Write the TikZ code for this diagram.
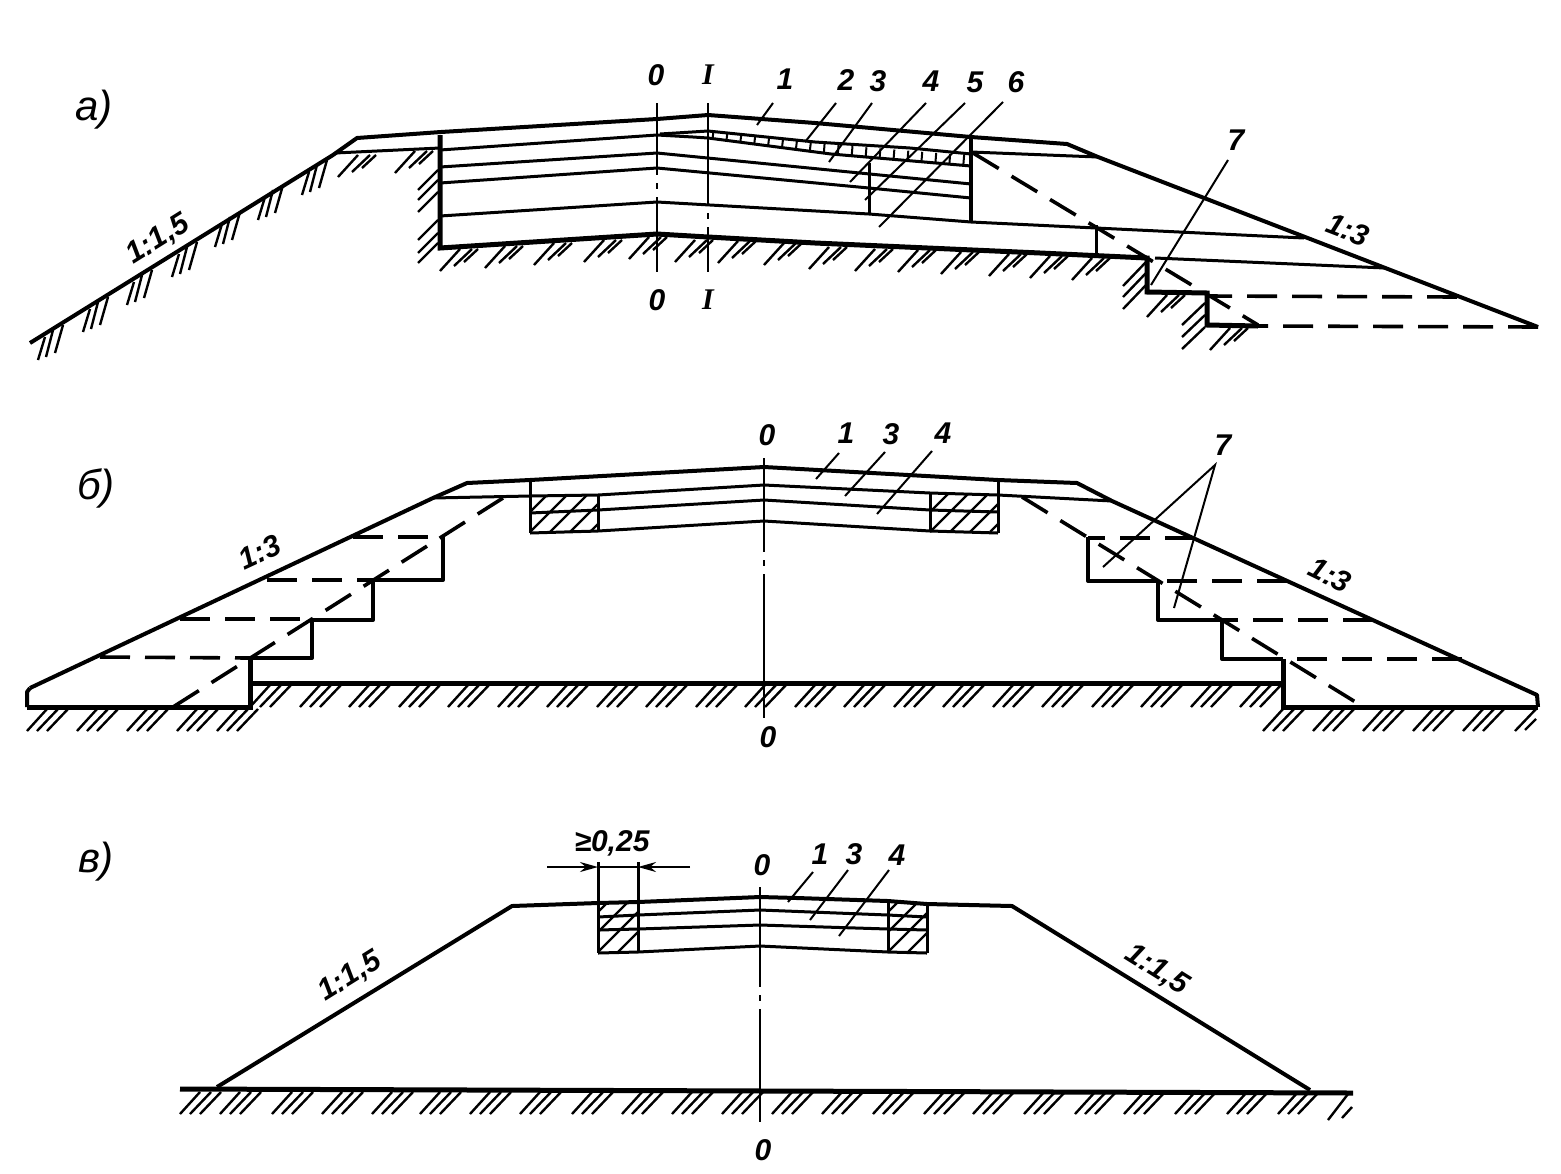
\documentclass[tikz,border=0pt]{standalone}
\usepackage{fontspec}
\setmainfont{Liberation Sans}
\newfontfamily\romanfont{Liberation Serif}
\usetikzlibrary{arrows.meta}

\newcommand{\boxhatch}[4]{
    \begin{scope}
        \clip (#1,#2) rectangle (#3,#4);
        \foreach \k in {0,...,7}
            \draw[hatchline] ({#1-60+\k*20},#4) -- ({#1+\k*20},#4-60);
    \end{scope}
}

\begin{document}
\begin{tikzpicture}[
    x = 0.5pt, y = -0.5pt,
    ground/.style = {line width = 2.5pt, line join = miter},
    slope/.style = {line width = 2pt, line join = round},
    layer/.style = {line width = 1.5pt},
    hatchline/.style = {line width = 1.2pt},
    leader/.style = {line width = 1pt},
    cutline/.style = {line width = 1.8pt, dash pattern = on 15pt off 7.5pt},
    axisline/.style = {line width = 1.3pt, dash pattern = on #1 off 4pt on 3pt off 4pt on 200pt off 0pt},
    lab/.style = {font = \fontsize{15}{15}\selectfont\bfseries\itshape, inner sep = 0pt},
    romanlab/.style = {font = \fontsize{15}{15}\selectfont\romanfont\bfseries\itshape, inner sep = 0pt},
    part/.style = {font = \fontsize{21}{21}\selectfont\itshape, inner sep = 0pt},
    hat/.pic = {\draw[hatchline] (0,0) -- (-20,22) (12,0) -- (-6,17) (18,0) -- (4,13);},
    hatb/.pic = {\draw[hatchline] (0,0) -- (-20,22) (11,0) -- (-10,22) (21,0) -- (0,22);},
    steep/.pic = {\draw[hatchline] (0,0) -- (-8,28) (-10,5) -- (-17,32) (-18,12) -- (-25,35);},
    ]
    \useasboundingbox (0,0) rectangle (1561,1173);

    % part a
    \node[part] (partA) at (94,110) {а)};
    \draw[slope] (30,343) -- (333,155) -- (357,138) -- (441,132) -- (657,119) -- (708,115) -- (815,123) -- (971,137) -- (1067,144) -- (1098,157) -- (1538,327);
    \draw[layer] (335,153) -- (440,148);
    \draw[layer] (971,152) -- (1098,157);
    \draw[layer] (440,150) -- (657,135) -- (693,137) -- (708,138) -- (831,154) -- (971,166);
    \draw[layer] (660,134) -- (708,131) -- (815,142) -- (910,148) -- (971,154);
    \draw[line width = 4.5pt, dash pattern = on 1pt off 6pt] (712,135) -- (820,148) -- (968,160);
    \draw[layer] (440,167) -- (657,153) -- (971,184);
    \draw[layer] (440,183) -- (657,168) -- (869,188) -- (971,198);
    \draw[layer] (440,216) -- (657,202) -- (869,214) -- (971,222) -- (1304,238);
    \draw[layer] (869,163) -- (869,214);
    \draw[slope] (971,135) -- (971,222);
    \draw[ground] (440,135) -- (440,248) -- (657,234) -- (708,237) -- (815,243) -- (1040,253) -- (1147,258) -- (1147,292) -- (1207,293) -- (1207,325) -- (1258,326);
    \draw[layer] (1096,225) -- (1096,255);
    \draw[layer] (1155,258) -- (1385,268);
    \draw[cutline] (1457,297) -- (1207,296);
    \draw[cutline] (1538,327) -- (1258,326);
    \draw[cutline] (973,153) -- (1258,325);
    \draw[axisline = 36pt] (657,103) -- (657,272);
    \draw[axisline = 51pt] (708,103) -- (708,272);

    \foreach \x/\y in {63/325, 108/297, 152/270, 197/242, 240/212, 283/185, 327/160}
        \pic at (\x,\y) {steep};
    \foreach \x/\y in {358/155, 415/151, 460/249, 505/246, 554/243, 604/240, 649/237, 695/240, 738/241, 784/243, 829/247, 875/249, 918/250, 961/252, 1009/254, 1050/256, 1092/258, 1167/295, 1230/328}
        \pic at (\x,\y) {hat};
    \foreach \y in {170,180,192,220,233,243}
        \draw[hatchline] (438,\y) -- (418,\y+20);
    \foreach \y in {262,273,285}
        \draw[hatchline] (1146,\y) -- (1123,\y+24);
    \foreach \y in {303,315,327}
        \draw[hatchline] (1205,\y) -- (1182,\y+22);

    \node[lab] (a0) at (656,75) {0};
    \node[romanlab] (aI) at (708,75) {I};
    \node[lab] (a1) at (785,79) {1};
    \node[lab] (a2) at (846,80) {2};
    \node[lab] (a3) at (878,81) {3};
    \node[lab] (a4) at (931,81) {4};
    \node[lab] (a5) at (975,82) {5};
    \node[lab] (a6) at (1016,82) {6};
    \node[lab] (a7) at (1236,140) {7};
    \node[lab] (b0) at (657,300) {0};
    \node[romanlab] (bI) at (708,300) {I};
    \node[lab, rotate = 32] (slopeA) at (158,240) {1:1,5};
    \node[lab, rotate = -21] (slopeB) at (1348,230) {1:3};

    \draw[leader] (773,103) -- (757,125);
    \draw[leader] (836,103) -- (805,142);
    \draw[leader] (872,103) -- (829,162);
    \draw[leader] (926,103) -- (850,182);
    \draw[leader] (965,103) -- (865,200);
    \draw[leader] (1003,102) -- (879,227);
    \draw[leader] (1228,160) -- (1151,285);

    % part b
    \node[part] (partB) at (96,488) {б)};
    \draw[slope] (30,688) -- (433,498) -- (467,483) -- (530,480) -- (764,467) -- (998,480) -- (1077,483) -- (1112,501) -- (1537,695) -- (1538,707);
    \draw[slope] (30,688) -- (27,692) -- (27,707);
    \draw[layer] (433,498) -- (530,496);
    \draw[layer] (998,495) -- (1112,501);
    \draw[layer] (530,496) -- (598,495) -- (764,485) -- (930,493) -- (998,495);
    \draw[layer] (530,513) -- (598,510) -- (764,500) -- (930,510) -- (998,512);
    \draw[layer] (530,533) -- (598,531) -- (764,521) -- (930,531) -- (998,533);
    \draw[layer] (530,480) -- (530,533);
    \draw[layer] (598,495) -- (598,531);
    \draw[layer] (930,493) -- (930,531);
    \draw[layer] (998,480) -- (998,533);
    \boxhatch{530}{496}{598}{532}
    \boxhatch{930}{495}{998}{532}

    \draw[slope] (443,535) -- (443,580) -- (373,580) -- (373,620) -- (312,620) -- (312,658) -- (250,658);
    \draw[slope] (1088,537) -- (1088,581) -- (1158,581) -- (1158,620) -- (1222,620) -- (1222,659) -- (1283,659);
    \draw[ground] (250,658) -- (250,707) -- (27,707);
    \draw[ground] (1283,659) -- (1283,707) -- (1538,707);
    \draw[ground] (250,683) -- (1283,683);
    \draw[cutline] (353,537) -- (443,537);
    \draw[cutline] (267,580) -- (373,580);
    \draw[cutline] (180,619) -- (312,619);
    \draw[cutline] (100,657) -- (250,658);
    \draw[cutline] (1195,538) -- (1088,538);
    \draw[cutline] (1287,581) -- (1158,581);
    \draw[cutline] (1373,620) -- (1222,620);
    \draw[cutline] (1462,659) -- (1283,659);
    \draw[cutline] (503,498) -- (173,707);
    \draw[cutline] (1022,497) -- (1362,706);
    \draw[axisline = 47pt] (764,458) -- (764,718);

    \foreach \x in {47,97,147,197,237,1283,1333,1383,1433,1483}
        \pic at (\x,709) {hatb};
    \foreach \x in {270,320,369,419,468,518,567,617,666,716,765,815,864,914,963,1013,1062,1112,1161,1211,1260}
        \pic at (\x,685) {hatb};
    \draw[hatchline] (1536,709) -- (1515,731) (1536,719) -- (1525,730);

    \node[lab] (c0) at (767,435) {0};
    \node[lab] (c1) at (846,433) {1};
    \node[lab] (c3) at (891,434) {3};
    \node[lab] (c4) at (943,433) {4};
    \node[lab] (c7) at (1223,445) {7};
    \node[lab] (d0) at (768,737) {0};
    \node[lab, rotate = 25] (slopeC) at (260,552) {1:3};
    \node[lab, rotate = -26] (slopeD) at (1330,575) {1:3};

    \coordinate (fork) at (1215,465);
    \draw[leader] (839,453) -- (816,479);
    \draw[leader] (885,452) -- (845,496);
    \draw[leader] (932,451) -- (877,514);
    \draw[leader] (1103,567) -- (fork) -- (1174,608);

    % part c
    \node[part] (partC) at (96,862) {в)};
    \draw[slope] (217,1087) -- (512,906) -- (598,903) -- (638,902) -- (760,897) -- (797,898) -- (888,901) -- (927,904) -- (1012,906) -- (1310,1090);
    \draw[layer] (598,917) -- (638,915) -- (760,910) -- (888,915) -- (927,917);
    \draw[layer] (598,930) -- (638,929) -- (760,925) -- (888,929) -- (927,930);
    \draw[layer] (598,953) -- (638,952) -- (760,946) -- (888,952) -- (927,953);
    \draw[layer] (598,862) -- (598,953);
    \draw[layer] (638,862) -- (638,952);
    \draw[layer] (888,901) -- (888,952);
    \draw[layer] (927,904) -- (927,953);
    \boxhatch{598}{904}{638}{952}
    \boxhatch{888}{902}{927}{952}
    \draw[ground] (180,1089) -- (1353,1093);
    \draw[axisline = 50pt] (760,887) -- (760,1122);
    \draw[leader, -{Stealth[length = 9pt, width = 5pt]}] (547,867) -- (598,867);
    \draw[leader, -{Stealth[length = 9pt, width = 5pt]}] (690,867) -- (638,867);
    \draw[leader] (598,867) -- (638,867);

    \foreach \x in {200,240,292,342,392,440,490,540,592,642,692,742,792,842,893,944,993,1044,1095,1144,1195,1247,1298}
        \pic at (\x,1092) {hatb};
    \draw[hatchline] (1348,1094) -- (1328,1120) (1352,1107) -- (1342,1118);

    \node[lab] (e0) at (762,865) {0};
    \node[lab] (e1) at (820,854) {1};
    \node[lab] (e3) at (854,854) {3};
    \node[lab] (e4) at (897,855) {4};
    \node[lab] (dim) at (612,843) {≥0,25};
    \node[lab] (f0) at (763,1150) {0};
    \node[lab, rotate = 32] (slopeE) at (350,977) {1:1,5};
    \node[lab, rotate = -32] (slopeF) at (1157,970) {1:1,5};

    \draw[leader] (813,872) -- (788,902);
    \draw[leader] (848,870) -- (810,920);
    \draw[leader] (889,870) -- (839,936);
\end{tikzpicture}
\end{document}
